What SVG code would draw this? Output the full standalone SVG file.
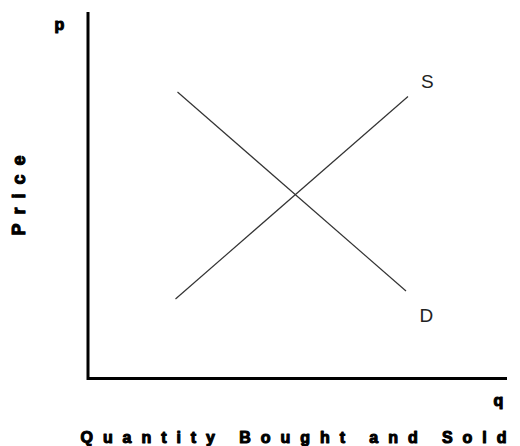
<svg xmlns="http://www.w3.org/2000/svg" width="520" height="446" viewBox="0 0 520 446">
<style>
.axis{stroke:#000;stroke-width:3;fill:none}
.curve{stroke:#333;stroke-width:1.2;fill:none}
.bold{font-family:"Liberation Sans",Arial,sans-serif;font-weight:bold;fill:#000;stroke:#000;stroke-width:1.1;stroke-linejoin:round}
.thin{font-family:"Liberation Sans",Arial,sans-serif;font-weight:normal;fill:#222}
</style>
<rect width="520" height="446" fill="#fff"/>
<g id="axes">
<path class="axis" d="M88 12 V379.5 M86.5 378.5 H507"/>
</g>
<g id="connectors">
<line id="demand" class="curve" x1="177.5" y1="92" x2="406" y2="291"/>
<line id="supply" class="curve" x1="175.5" y1="299" x2="408" y2="96.5"/>
</g>
<g id="label-p"><text class="bold" x="54.5" y="30" font-size="16">p</text></g>
<g id="label-q"><text class="bold" x="493.5" y="406" font-size="16">q</text></g>
<g id="label-S"><text class="thin" x="421" y="88" font-size="19">S</text></g>
<g id="label-D"><text class="thin" x="419.5" y="322" font-size="19">D</text></g>
<g id="label-price"><text class="bold" font-size="18" transform="translate(24.5,235.5) rotate(-90)" textLength="80" lengthAdjust="spacing">Price</text></g>
<g id="label-quantity"><text class="bold" x="80.5" y="443" font-size="16" textLength="426" lengthAdjust="spacing">Quantity Bought and Sold</text></g>
</svg>
